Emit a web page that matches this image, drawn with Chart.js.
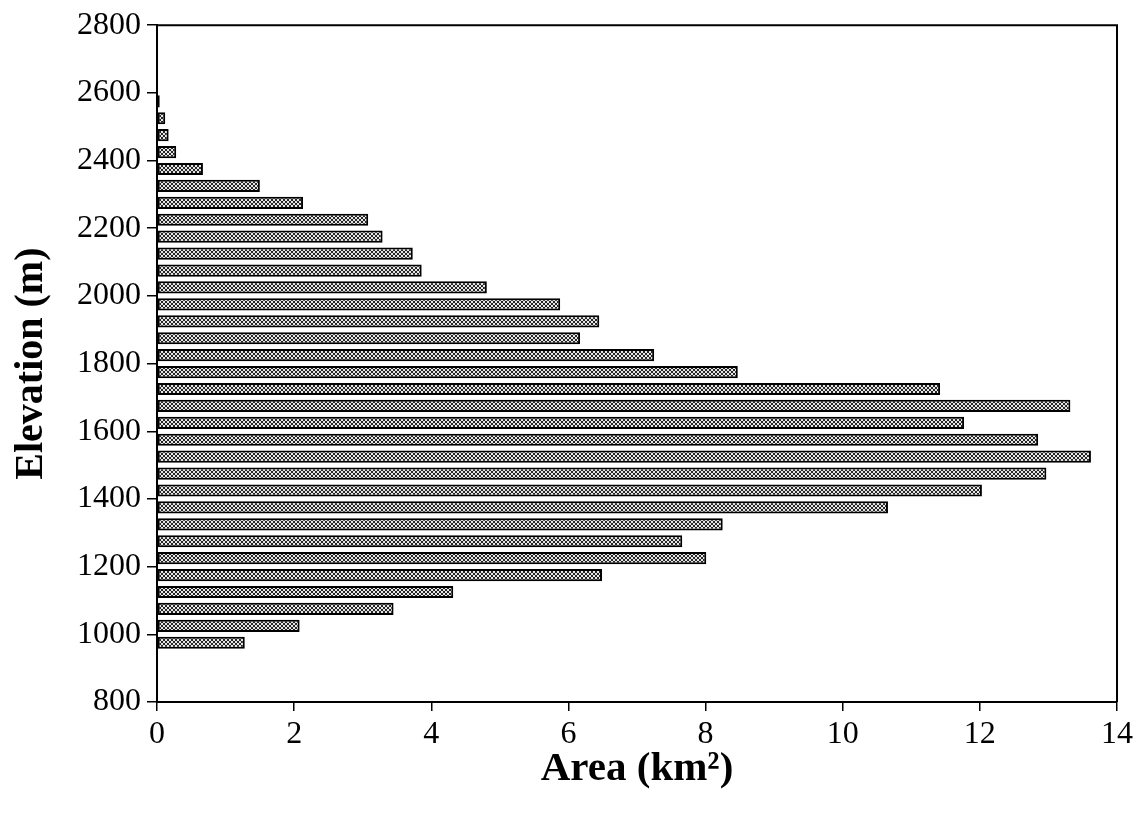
<!DOCTYPE html>
<html>
<head>
<meta charset="utf-8">
<script src="https://cdn.jsdelivr.net/npm/chart.js@4.4.0/dist/chart.umd.min.js"></script>
<style>
  html, body { margin: 0; padding: 0; background: #fff; }
  #wrap { width: 1137px; height: 814px; }
</style>
</head>
<body>
<div id="wrap"><canvas id="chartArea"></canvas></div>
<script>
// centro de cada franja de 50 m
const elevaciones = [
  975, 1025, 1075, 1125, 1175, 1225, 1275, 1325, 1375, 1425, 1475,
  1525, 1575, 1625, 1675, 1725, 1775, 1825, 1875, 1925, 1975, 2025,
  2075, 2125, 2175, 2225, 2275, 2325, 2375, 2425, 2475, 2525, 2575,
];
// area en km2 por franja
const areas = [
  1.28, 2.08, 3.45, 4.32, 6.49, 8.01, 7.66, 8.25, 10.66, 12.03, 12.97,
  13.62, 12.85, 11.77, 13.32, 11.42, 8.47, 7.25, 6.17, 6.45, 5.88, 4.81,
  3.86, 3.73, 3.29, 3.08, 2.13, 1.5, 0.67, 0.28, 0.17, 0.12, 0.04,
];
const ticksY = [800, 1000, 1200, 1400, 1600, 1800, 2000, 2200, 2400, 2600, 2800];
const ticksX = [0, 2, 4, 6, 8, 10, 12, 14];

// textura punteada de las barras
const trama = () => {
  const c = document.createElement("canvas");
  c.width = 4;
  c.height = 4;
  const g = c.getContext("2d");
  g.fillStyle = "#e6e6e6";
  g.fillRect(0, 0, 4, 4);
  g.fillStyle = "#262626";
  [[0, 0], [1, 1], [2, 2], [3, 3], [3, 0], [2, 1], [1, 2], [0, 3]].forEach(([x, y]) => {
    g.fillRect(x, y, 1, 1);
  });
  return g.createPattern(c, "repeat");
};

// marco superior y derecho
const marco = {
  id: "marco",
  afterDraw: (chart) => {
    const { ctx, chartArea } = chart;
    ctx.save();
    ctx.strokeStyle = "#000";
    ctx.lineWidth = 2;
    ctx.beginPath();
    ctx.moveTo(chartArea.left, chartArea.top);
    ctx.lineTo(chartArea.right, chartArea.top);
    ctx.lineTo(chartArea.right, chartArea.bottom);
    ctx.stroke();
    ctx.restore();
  },
};

const fuente = "'Liberation Serif', 'Times New Roman', serif";

const myChart = new Chart(document.getElementById("chartArea"), {
  type: "bar",
  data: {
    datasets: [
      {
        label: "Area",
        data: elevaciones.map((e, i) => ({ x: areas[i], y: e })),
        backgroundColor: trama(),
        borderColor: "#000",
        borderWidth: 2,
        borderSkipped: false,
        barPercentage: 0.72,
        categoryPercentage: 1,
      },
    ],
  },
  options: {
    indexAxis: "y",
    responsive: true,
    maintainAspectRatio: false,
    animation: false,
    events: [],
    layout: {
      padding: { top: 24, right: 19, left: 8, bottom: 20 },
    },
    scales: {
      x: {
        type: "linear",
        min: 0,
        max: 14,
        afterBuildTicks: (axis) => {
          axis.ticks = ticksX.map((v) => ({ value: v }));
        },
        afterFit: (axis) => {
          axis.height = 92;
        },
        grid: {
          display: true,
          drawOnChartArea: false,
          drawTicks: true,
          tickLength: 9,
          color: "#000",
          lineWidth: 1.5,
        },
        border: { display: true, color: "#000", width: 2 },
        ticks: {
          color: "#000",
          padding: 4,
          maxRotation: 0,
          callback: (v) => String(v),
          font: { family: fuente, size: 32 },
        },
        title: {
          display: true,
          text: "Area (km²)",
          color: "#000",
          padding: { top: 8, bottom: 0 },
          font: { family: fuente, size: 41, weight: "bold" },
        },
      },
      y: {
        type: "linear",
        offset: false,
        min: 800,
        max: 2800,
        afterBuildTicks: (axis) => {
          axis.ticks = ticksY.map((v) => ({ value: v }));
        },
        afterFit: (axis) => {
          axis.width = 149;
        },
        grid: {
          display: true,
          offset: false,
          drawOnChartArea: false,
          drawTicks: true,
          tickLength: 10,
          color: "#000",
          lineWidth: 1.5,
        },
        border: { display: true, color: "#000", width: 2 },
        ticks: {
          color: "#000",
          padding: 6,
          callback: (v) => String(v),
          font: { family: fuente, size: 32 },
        },
        title: {
          display: true,
          text: "Elevation (m)",
          color: "#000",
          padding: { top: 0, bottom: 0 },
          font: { family: fuente, size: 40, weight: "bold" },
        },
      },
    },
    plugins: {
      legend: { display: false },
      tooltip: { enabled: false },
    },
  },
  plugins: [marco],
});
</script>
</body>
</html>
